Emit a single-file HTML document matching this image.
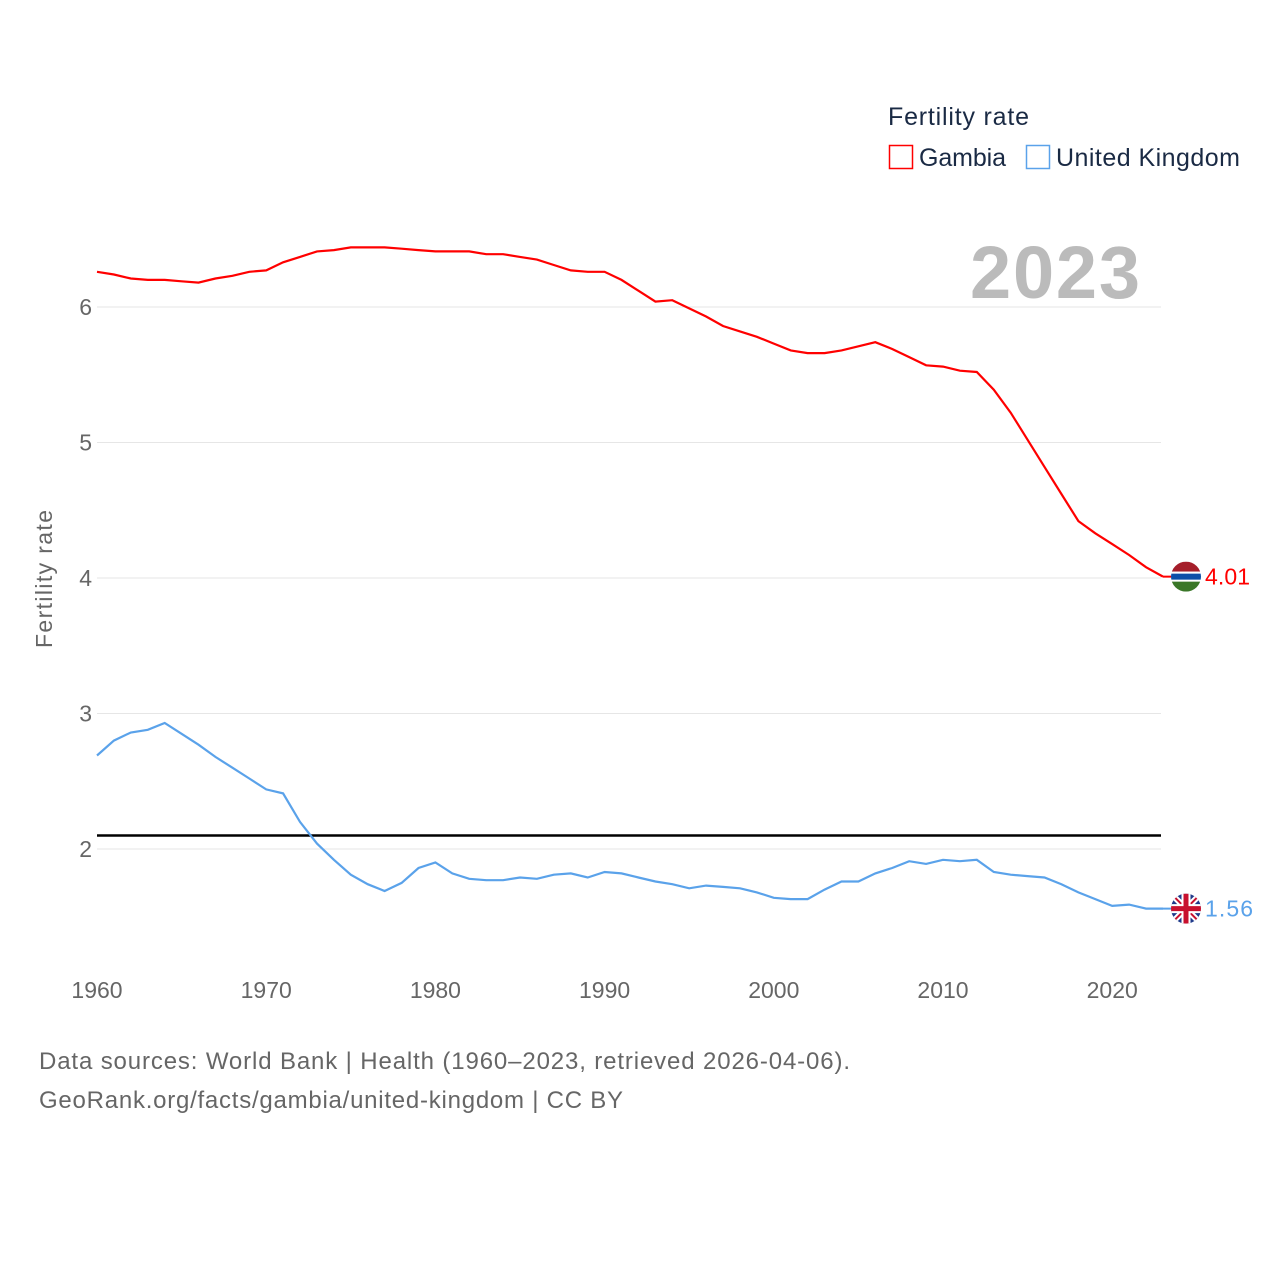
<!DOCTYPE html>
<html><head><meta charset="utf-8"><style>
body{margin:0;background:#fff;font-family:"Liberation Sans",sans-serif}
svg{display:block}
</style></head><body>
<svg id="chart" width="1280" height="1280" viewBox="0 0 1280 1280">
<g id="grid"></g>
<g id="yticks"></g>
<g id="xticks"></g>
<text x="52" y="579" transform="rotate(-90 52 579)" text-anchor="middle" font-size="23" fill="#666" textLength="138">Fertility rate</text>
<text x="1140" y="298" text-anchor="end" font-size="74" font-weight="bold" fill="#bbb" textLength="170">2023</text>
<line id="repl" x1="97" x2="1161" stroke="#000" stroke-width="2.5"/>
<path id="gm" fill="none" stroke="#f00" stroke-width="2.2"/>
<path id="uk" fill="none" stroke="#5aa2ea" stroke-width="2.2"/>
<g id="ends"></g>
<g>
<text x="888" y="125" font-size="25" fill="#1a2a44" textLength="141">Fertility rate</text>
<g><rect x="889.5" y="145.5" width="23" height="23" fill="none" stroke="#f00" stroke-width="1.5"/><text x="919" y="166" font-size="25" fill="#1a2a44" textLength="87">Gambia</text></g>
<g><rect x="1026.5" y="145.5" width="23" height="23" fill="none" stroke="#5aa2ea" stroke-width="1.5"/><text x="1056" y="166" font-size="25" fill="#1a2a44" textLength="184">United Kingdom</text></g>
</g>
<text x="39" y="1069" font-size="24" fill="#666" textLength="811">Data sources: World Bank | Health (1960–2023, retrieved 2026-04-06).</text>
<text x="39" y="1108" font-size="24" fill="#666" textLength="584">GeoRank.org/facts/gambia/united-kingdom | CC BY</text>
</svg>
<script>
const years=[];for(let y=1960;y<=2023;y++)years.push(y);
const gambia=[6.26,6.24,6.21,6.2,6.2,6.19,6.18,6.21,6.23,6.26,6.27,6.33,6.37,6.41,6.42,6.44,6.44,6.44,6.43,6.42,6.41,6.41,6.41,6.39,6.39,6.37,6.35,6.31,6.27,6.26,6.26,6.2,6.12,6.04,6.05,5.99,5.93,5.86,5.82,5.78,5.73,5.68,5.66,5.66,5.68,5.71,5.74,5.69,5.63,5.57,5.56,5.53,5.52,5.39,5.22,5.02,4.82,4.62,4.42,4.33,4.25,4.17,4.08,4.01];
const uk=[2.69,2.8,2.86,2.88,2.93,2.85,2.77,2.68,2.6,2.52,2.44,2.41,2.2,2.04,1.92,1.81,1.74,1.69,1.75,1.86,1.9,1.82,1.78,1.77,1.77,1.79,1.78,1.81,1.82,1.79,1.83,1.82,1.79,1.76,1.74,1.71,1.73,1.72,1.71,1.68,1.64,1.63,1.63,1.7,1.76,1.76,1.82,1.86,1.91,1.89,1.92,1.91,1.92,1.83,1.81,1.8,1.79,1.74,1.68,1.63,1.58,1.59,1.56,1.56];
const yTicks=[2,3,4,5,6];
const xTicks=[1960,1970,1980,1990,2000,2010,2020];
const replacement=2.1;
const X=y=>97+(y-1960)*16.92, Y=v=>849-(v-2)*135.5;
const NS='http://www.w3.org/2000/svg';
function mk(t,a,p){const e=document.createElementNS(NS,t);for(const k in a)e.setAttribute(k,a[k]);p.appendChild(e);return e;}
const grid=document.getElementById('grid'),yt=document.getElementById('yticks'),xt=document.getElementById('xticks');
yTicks.forEach(v=>{const l=mk('line',{x1:97,x2:1161,y1:Y(v),y2:Y(v),stroke:'#e6e6e6','stroke-width':1},grid);


const t=mk('text',{x:92,y:Y(v)+8,'text-anchor':'end','font-size':23,fill:'#666'},yt);t.textContent=v;

});
xTicks.forEach(v=>{const t=mk('text',{x:X(v),y:998,'text-anchor':'middle','font-size':23,fill:'#666'},xt);t.textContent=v;

});
const r=document.getElementById('repl');r.setAttribute('y1',Y(replacement));r.setAttribute('y2',Y(replacement));
const path=a=>a.map((v,i)=>(i?'L':'M')+X(years[i]).toFixed(1)+','+Y(v).toFixed(1)).join('');
document.getElementById('gm').setAttribute('d',path(gambia));
document.getElementById('uk').setAttribute('d',path(uk));
const ends=document.getElementById('ends');
const gl=gambia[gambia.length-1],ul=uk[uk.length-1],lx=X(2023);
let g=mk('g',{},ends);


let cy=Y(gl),cx=1186;
mk('line',{x1:lx,x2:cx-14,y1:cy,y2:cy,stroke:'#f00','stroke-width':2},g);
const cpg=mk('clipPath',{id:'cg'},g);mk('circle',{cx:cx,cy:cy,r:15},cpg);
const gg=mk('g',{'clip-path':'url(#cg)'},g);
mk('rect',{x:cx-15,y:cy-15,width:30,height:10,fill:'#a51e2a'},gg);
mk('rect',{x:cx-15,y:cy-5,width:30,height:10,fill:'#fff'},gg);
mk('rect',{x:cx-15,y:cy-3,width:30,height:6,fill:'#0d4fa8'},gg);
mk('rect',{x:cx-15,y:cy+5,width:30,height:10,fill:'#3a7728'},gg);
let t=mk('text',{x:1205,y:cy+8,'font-size':23,fill:'#f00',textLength:45},g);t.textContent=gl.toFixed(2);
g=mk('g',{},ends);


cy=Y(ul);
mk('line',{x1:lx,x2:cx-14,y1:cy,y2:cy,stroke:'#5aa2ea','stroke-width':2},g);
const cp=mk('clipPath',{id:'cu'},g);mk('circle',{cx:cx,cy:cy,r:15},cp);
const ug=mk('g',{'clip-path':'url(#cu)'},g);
mk('rect',{x:cx-15,y:cy-15,width:30,height:30,fill:'#1f3a8a'},ug);
mk('path',{d:`M${cx-15},${cy-15}L${cx+15},${cy+15}M${cx+15},${cy-15}L${cx-15},${cy+15}`,stroke:'#fff','stroke-width':6},ug);
mk('path',{d:`M${cx-15},${cy-15}L${cx+15},${cy+15}M${cx+15},${cy-15}L${cx-15},${cy+15}`,stroke:'#c8102e','stroke-width':2},ug);
mk('path',{d:`M${cx},${cy-15}V${cy+15}M${cx-15},${cy}H${cx+15}`,stroke:'#fff','stroke-width':9},ug);
mk('path',{d:`M${cx},${cy-15}V${cy+15}M${cx-15},${cy}H${cx+15}`,stroke:'#c8102e','stroke-width':5},ug);
t=mk('text',{x:1205,y:cy+8,'font-size':23,fill:'#5aa2ea',textLength:48},g);t.textContent=ul.toFixed(2);
</script>
</body></html>
